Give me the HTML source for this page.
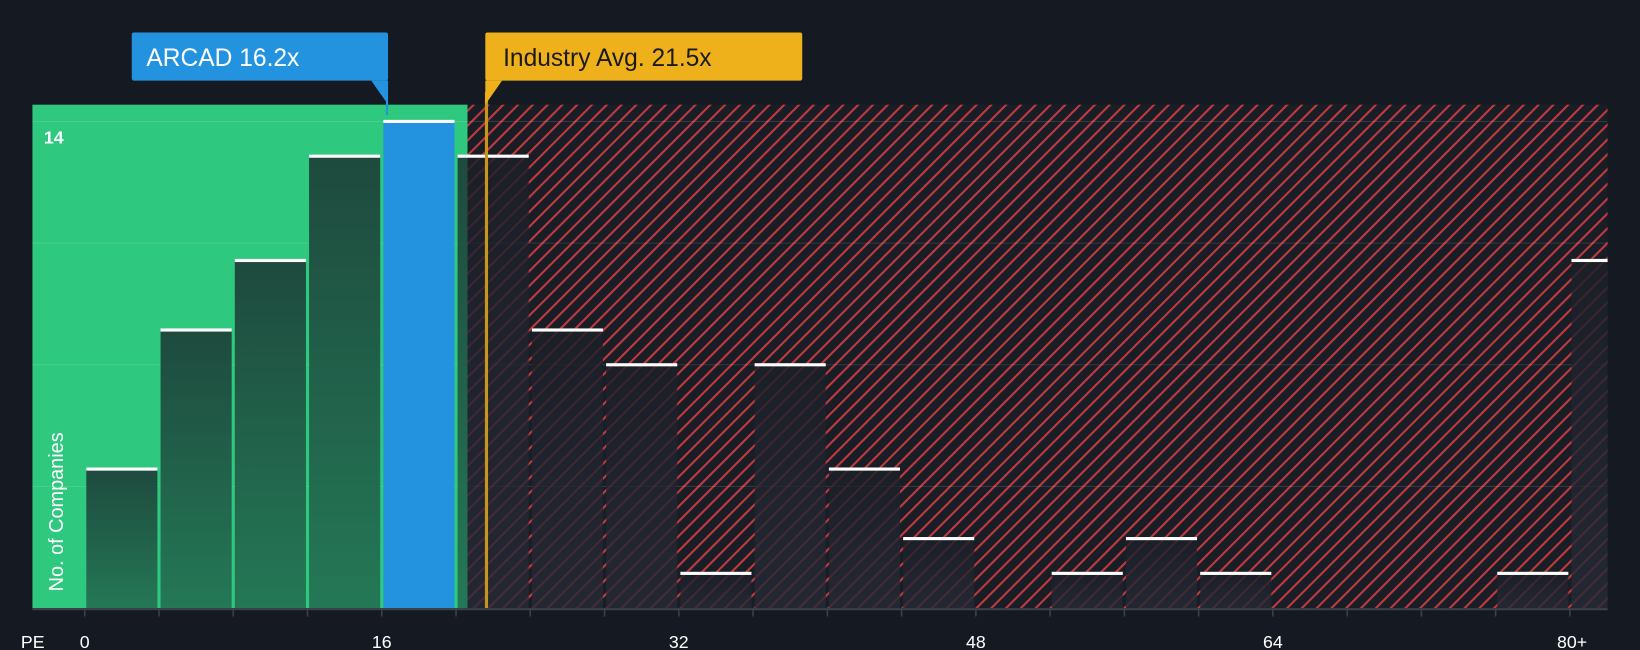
<!DOCTYPE html>
<html><head><meta charset="utf-8"><style>
html,body{margin:0;padding:0;background:#151a22;}
svg{display:block;font-family:"Liberation Sans",sans-serif;}
</style></head><body>
<svg id="chart" width="1640" height="650" viewBox="0 0 1568 621" preserveAspectRatio="none">
<defs>
<pattern id="hatch" patternUnits="userSpaceOnUse" width="10" height="10" patternTransform="rotate(45)">
<rect width="10" height="10" fill="#181d26"/>
<rect x="0" y="0" width="2" height="10" fill="#c23a3c"/>
</pattern>
<linearGradient id="gbar" x1="0" y1="0" x2="0" y2="1"><stop offset="0" stop-color="#1e4a3e"/><stop offset="1" stop-color="#247856"/></linearGradient>
<linearGradient id="dbar" x1="0" y1="0" x2="0" y2="1"><stop offset="0" stop-color="#1b1f28" stop-opacity="0.82"/><stop offset="1" stop-color="#252a36" stop-opacity="0.8"/></linearGradient>
</defs>
<rect width="1568" height="621" fill="#151a22"/>
<g id="bg"></g>
<g id="grid"></g>
<g id="bars"></g>
<g id="ticks"></g>
</svg>
<script>
const binStarts=[0,4,8,12,16,20,24,28,32,36,40,44,48,52,56,60,64,68,72,76,80];
const counts=[4,8,10,13,14,13,8,7,1,7,4,2,0,1,2,1,0,0,0,1,10];
const xTickLabels=["0","16","32","48","64","80+"];
const xTickValues=[0,16,32,48,64,80];
const yTicks=[3.5,7,10.5,14];
const companyPE=16.2, industryPE=21.5, highlightBin=4;
const NS="http://www.w3.org/2000/svg";
const L=31,R=1537,T=100,B=581;
const x=v=>81+v*17.75;
const y=v=>B-v*(465/14);
function el(t,a,p){const e=document.createElementNS(NS,t);for(const k in a)e.setAttribute(k,a[k]);(p||document.getElementById('chart')).appendChild(e);return e;}
const bg=document.getElementById('bg'),grid=document.getElementById('grid'),bars=document.getElementById('bars'),ticks=document.getElementById('ticks');
const split=447;
let r=el('rect',{x:L,y:T,width:split-L,height:B-T,fill:'#2ec87f'},bg);


r=el('rect',{x:split,y:T,width:R-split,height:B-T,fill:'url(#hatch)'},bg);


yTicks.forEach(v=>{const g=el('line',{x1:L,x2:R,y1:y(v),y2:y(v),stroke:'rgba(255,255,255,0.12)','stroke-width':1},grid);

});
binStarts.forEach((s,i)=>{
 const x0=x(s)+1.5, w=(s===80)?(R-x0):(x(s+4)-x(s)-3);
 const top=y(counts[i]), h=B-top;
 if(i===highlightBin){
  const b=el('rect',{x:x0,y:top,width:w,height:h,fill:'#2393e0'},bars);
  
  
 } else if(x0+w<=split){
  const b=el('rect',{x:x0,y:top,width:w,height:h,fill:'url(#gbar)'},bars);
  
  
 } else if(x0>=split){
  const b=el('rect',{x:x0,y:top,width:w,height:h,fill:'url(#dbar)'},bars);
  
  
 } else {
  const b=el('rect',{x:x0,y:top,width:split-x0,height:h,fill:'url(#gbar)'},bars);
  
  
  const b2=el('rect',{x:split,y:top,width:x0+w-split,height:h,fill:'url(#dbar)'},bars);
  
  
 }
 if(counts[i]>0){const c=el('rect',{x:x0,y:top-1.5,width:w,height:3,fill:'#ffffff'},bars);
 
 }
});
const il=el('rect',{x:x(industryPE)+1,y:88,width:3,height:B-88,fill:'#c8961e'});


el('line',{x1:L,x2:R,y1:B+1,y2:B+1,stroke:'#3a404c','stroke-width':2});
for(let v=0;v<=80;v+=4){const t=el('line',{x1:x(v),x2:x(v),y1:B,y2:B+8,stroke:'#3a404c','stroke-width':1.5},ticks);

}
xTickValues.forEach((v,i)=>{const t=el('text',{x:x(v)+(v===80?2:0),y:619,'text-anchor':'middle',fill:'#fff','font-size':17},ticks);t.textContent=xTickLabels[i];

});
let t=el('text',{x:20,y:619,fill:'#fff','font-size':17});t.textContent='PE';


t=el('text',{x:42,y:137,fill:'#fff','font-size':17,'font-weight':'bold'});t.textContent='14';


t=el('text',{x:0,y:0,fill:'#fff','font-size':19,transform:'translate(60,565) rotate(-90)'});t.textContent='No. of Companies';


let cb=el('rect',{x:126,y:31,width:245,height:46,fill:'#2393e0',rx:2});


let cp=el('path',{d:'M355 77 L371 77 L371 100 Z',fill:'#2393e0'});


el('line',{x1:370,x2:370,y1:77,y2:110,stroke:'#2393e0','stroke-width':2});
t=el('text',{x:140,y:63,fill:'#fff','font-size':23.5});t.textContent='ARCAD 16.2x';


cb=el('rect',{x:464,y:31,width:303,height:46,fill:'#efb11b',rx:2});


cp=el('path',{d:'M464 77 L480 77 L464 100 Z',fill:'#efb11b'});


t=el('text',{x:481,y:63,fill:'#1a1a1a','font-size':23.5});t.textContent='Industry Avg. 21.5x';


</script>
</body></html>
